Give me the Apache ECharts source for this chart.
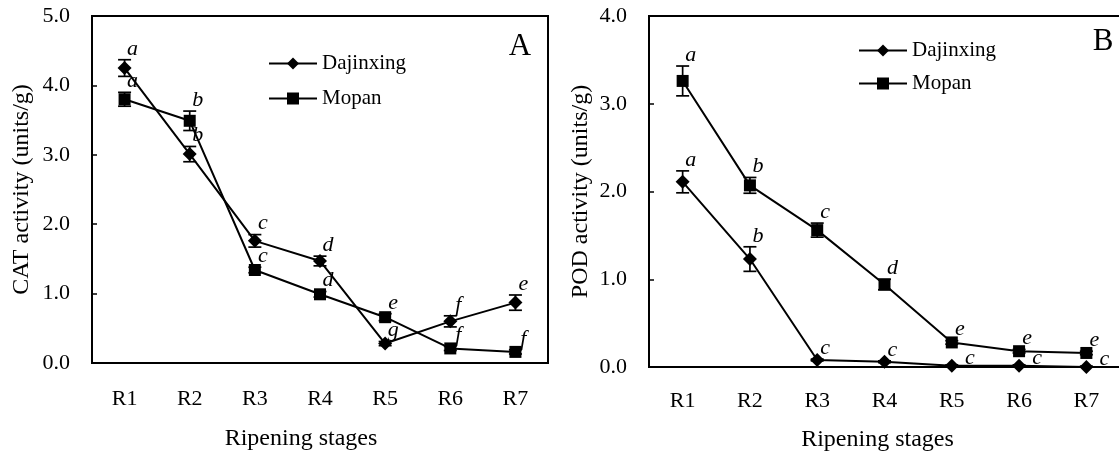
<!DOCTYPE html>
<html><head><meta charset="utf-8">
<script src="https://cdn.jsdelivr.net/npm/echarts@6/dist/echarts.min.js"></script>
<style>html,body{margin:0;padding:0;background:#fff}#c{width:1119px;height:452px}</style>
</head><body><div id="c"></div>
<script>
// ---- data ----
const categories = ['R1','R2','R3','R4','R5','R6','R7'];
const catDajinxing = [4.25, 3.01, 1.76, 1.47, 0.28, 0.60, 0.87];
const catDajinxingErr = [0.12, 0.11, 0.09, 0.07, 0.03, 0.08, 0.11];
const catDajinxingLetters = ['a','b','c','d','g','f','e'];
const catMopan = [3.80, 3.49, 1.34, 0.99, 0.66, 0.21, 0.16];
const catMopanErr = [0.10, 0.14, 0.04, 0.04, 0.05, 0.03, 0.03];
const catMopanLetters = ['a','b','c','d','e','f','f'];
const podDajinxing = [2.11, 1.23, 0.08, 0.06, 0.015, 0.015, 0.0];
const podDajinxingErr = [0.125, 0.14, 0.01, 0.01, 0.01, 0.01, 0.01];
const podDajinxingLetters = ['a','b','c','c','c','c','c'];
const podMopan = [3.26, 2.07, 1.56, 0.94, 0.28, 0.18, 0.16];
const podMopanErr = [0.17, 0.09, 0.08, 0.06, 0.02, 0.02, 0.02];
const podMopanLetters = ['a','b','c','d','e','e','e'];
const catMax = 5, podMax = 4, yStep = 1;

// ---- styles ----
const FONT = '"Liberation Serif", "Times New Roman", serif';
const BLACK = '#000';

function xAxisCfg(gi, labelMargin, gap, shift) {
  return {
    type: 'category', gridIndex: gi, data: categories, boundaryGap: true,
    axisLine: { lineStyle: { color: BLACK, width: 2 } },
    axisTick: { inside: true, length: 5, lineStyle: { color: BLACK, width: 1.5 } },
    axisLabel: { margin: labelMargin, fontSize: 22, fontFamily: FONT, color: BLACK },
    name: 'Ripening stages', nameLocation: 'middle', nameGap: gap,
    nameTextStyle: { fontSize: 24, fontFamily: FONT, color: BLACK, padding: [0, shift, 0, 0] }
  };
}
function yAxisCfg(gi, max, name, gap) {
  return {
    type: 'value', gridIndex: gi, min: 0, max: max, interval: yStep,
    splitLine: { show: false },
    axisLine: { show: true, lineStyle: { color: BLACK, width: 2 } },
    axisTick: { show: true, inside: true, length: 5, lineStyle: { color: BLACK, width: 1.5 } },
    axisLabel: { margin: 22, fontSize: 22, fontFamily: FONT, color: BLACK, formatter: v => v.toFixed(1) },
    name: name, nameLocation: 'middle', nameGap: gap,
    nameTextStyle: { fontSize: 24, fontFamily: FONT, color: BLACK }
  };
}
function lineSeries(name, gi, vals, symbol, size) {
  return {
    type: 'line', name: name, xAxisIndex: gi, yAxisIndex: gi, data: vals,
    symbol: symbol, symbolSize: size, showAllSymbol: true, z: 4,
    lineStyle: { color: BLACK, width: 2 }, itemStyle: { color: BLACK, opacity: 1 },
    emphasis: { disabled: true }
  };
}
function errSeries(gi, vals, errs, letters) {
  return {
    type: 'custom', xAxisIndex: gi, yAxisIndex: gi, z: 3, silent: true,
    data: vals.map((v, i) => [i, v, errs[i]]),
    renderItem(params, api) {
      const i = api.value(0), v = api.value(1), e = api.value(2);
      const top = api.coord([i, v + e]);
      const bot = api.coord([i, Math.max(0, v - e)]);
      const hw = 6.5;
      const ls = { stroke: BLACK, lineWidth: 1.7 };
      const nearZero = (v + e) < 0.05;
      const dx = nearZero ? 18 : 8, dy = nearZero ? -7 : -11;
      return {
        type: 'group', children: [
          { type: 'line', shape: { x1: top[0], y1: top[1], x2: bot[0], y2: bot[1] }, style: ls },
          { type: 'line', shape: { x1: top[0] - hw, y1: top[1], x2: top[0] + hw, y2: top[1] }, style: ls },
          { type: 'line', shape: { x1: bot[0] - hw, y1: bot[1], x2: bot[0] + hw, y2: bot[1] }, style: ls },
          { type: 'text', x: top[0] + dx, y: top[1] + dy,
            style: { text: letters[params.dataIndex], align: 'center', verticalAlign: 'middle',
                     font: 'italic 22px ' + FONT, fill: BLACK } }
        ]
      };
    }
  };
}
function legendCfg(left, top, gap) {
  return {
    data: ['Dajinxing', 'Mopan'], orient: 'vertical', left: left, top: top, padding: 0,
    itemWidth: 48, itemHeight: 15, itemGap: gap, selectedMode: false,
    textStyle: { fontSize: 21, fontFamily: FONT, color: BLACK }
  };
}

const chart = echarts.init(document.getElementById('c'), null, { renderer: 'canvas' });
chart.setOption({
  animation: false,
  backgroundColor: '#fff',
  grid: [
    { left: 92, top: 16, width: 456, height: 347, show: true, borderColor: BLACK, borderWidth: 2, containLabel: false, outerBoundsMode: 'none' },
    { left: 649, top: 16, width: 471, height: 351, show: true, borderColor: BLACK, borderWidth: 2, containLabel: false, outerBoundsMode: 'none' }
  ],
  xAxis: [xAxisCfg(0, 25, 64, 38), xAxisCfg(1, 23, 61, 14)],
  yAxis: [yAxisCfg(0, catMax, 'CAT activity (units/g)', 58), yAxisCfg(1, podMax, 'POD activity (units/g)', 56)],
  legend: [legendCfg(268, 53, 14), legendCfg(858, 40, 12)],
  graphic: [
    { type: 'text', x: 520, y: 47, style: { text: 'A', align: 'center', verticalAlign: 'middle', font: '31px ' + FONT, fill: BLACK } },
    { type: 'text', x: 1103, y: 42, style: { text: 'B', align: 'center', verticalAlign: 'middle', font: '31px ' + FONT, fill: BLACK } }
  ],
  series: [
    errSeries(0, catDajinxing, catDajinxingErr, catDajinxingLetters),
    errSeries(0, catMopan, catMopanErr, catMopanLetters),
    lineSeries('Dajinxing', 0, catDajinxing, 'diamond', 14),
    lineSeries('Mopan', 0, catMopan, 'rect', 12),
    errSeries(1, podDajinxing, podDajinxingErr, podDajinxingLetters),
    errSeries(1, podMopan, podMopanErr, podMopanLetters),
    lineSeries('Dajinxing', 1, podDajinxing, 'diamond', 14),
    lineSeries('Mopan', 1, podMopan, 'rect', 12)
  ]
});
</script></body></html>
